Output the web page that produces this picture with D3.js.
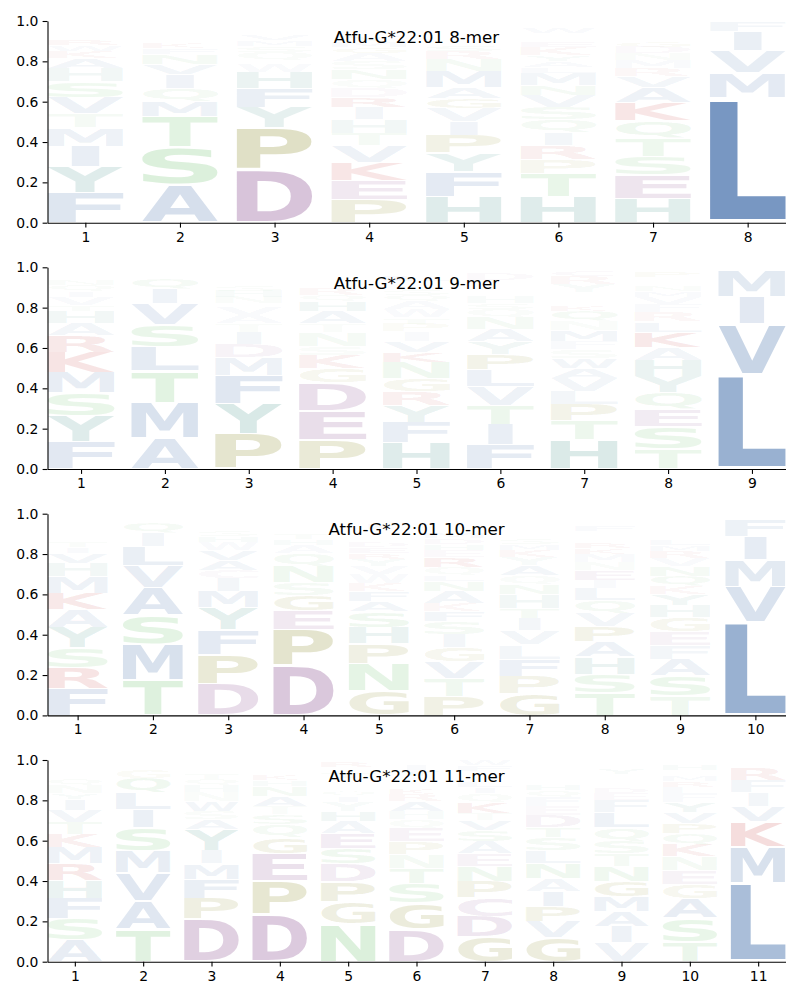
<!DOCTYPE html>
<html><head><meta charset="utf-8">
<script src="https://cdn.jsdelivr.net/npm/d3@7"></script>
<style>body{margin:0;background:#fff} svg{display:block}</style>
</head><body>
<svg id="chart" width="800" height="1000"></svg>
<script>
// ---------------- DATA ----------------
const titles = ["Atfu-G*22:01 8-mer", "Atfu-G*22:01 9-mer", "Atfu-G*22:01 10-mer", "Atfu-G*22:01 11-mer"];
const yTicks = [0, 0.2, 0.4, 0.6, 0.8, 1.0];
const yTickLabels = ["0.0", "0.2", "0.4", "0.6", "0.8", "1.0"];

// each column: [letter, probability] from bottom to top
const mer8 = [
  [["F",.15],["Y",.13],["I",.10],["M",.09],["T",.07],["V",.08],["S",.08],["H",.065],["A",.05],["K",.035],["W",.03],["R",.03],["Q",.02],["E",.015],["N",.015],["D",.01],["G",.015],["L",.015]],
  [["A",.19],["S",.185],["T",.15],["M",.075],["Q",.065],["I",.07],["V",.05],["N",.05],["F",.03],["K",.025],["R",.02],["E",.02],["Y",.015],["L",.015],["D",.01],["G",.01],["H",.01],["W",.005]],
  [["D",.26],["P",.21],["Y",.10],["F",.095],["H",.08],["W",.04],["I",.02],["Q",.04],["S",.03],["M",.03],["V",.025],["A",.02],["G",.015],["N",.015],["L",.01],["E",.01]],
  [["P",.115],["E",.095],["K",.09],["V",.085],["T",.06],["H",.065],["I",.06],["R",.05],["D",.045],["Q",.045],["N",.05],["S",.04],["A",.04],["G",.03],["M",.03],["Y",.025],["W",.02],["L",.02],["C",.015],["F",.01]],
  [["H",.13],["F",.125],["Y",.09],["P",.09],["I",.065],["V",.065],["G",.05],["A",.055],["M",.08],["N",.06],["R",.04],["S",.03],["E",.02],["Q",.02],["L",.015],["D",.01],["K",.01],["W",.02],["T",.015],["C",.01]],
  [["H",.13],["T",.115],["P",.07],["R",.07],["I",.06],["Q",.065],["S",.06],["V",.06],["N",.05],["M",.06],["L",.03],["A",.03],["Y",.03],["K",.04],["E",.03],["D",.015],["G",.015],["F",.01],["W",.025],["C",.02]],
  [["H",.12],["E",.115],["S",.095],["T",.09],["Q",.085],["K",.09],["A",.075],["V",.055],["R",.04],["M",.04],["N",.035],["D",.03],["G",.025],["Y",.02],["F",.015],["L",.01],["I",.01],["W",.01],["P",.02],["C",.01]],
  [["L",.62],["M",.125],["V",.11],["I",.095],["F",.05]]
];
const mer9 = [
  [["F",.135],["Y",.13],["S",.115],["M",.10],["K",.10],["R",.08],["A",.06],["H",.06],["T",.03],["V",.04],["I",.03],["Q",.03],["N",.025],["E",.02],["G",.02],["D",.015],["L",.01]],
  [["A",.155],["M",.175],["T",.155],["L",.12],["S",.11],["V",.105],["I",.075],["Q",.05],["F",.015],["W",.01],["Y",.01],["G",.01],["E",.005]],
  [["P",.175],["Y",.15],["F",.14],["M",.09],["D",.065],["I",.06],["T",.04],["A",.04],["V",.04],["W",.02],["N",.03],["H",.03],["S",.025],["Q",.02],["L",.015],["E",.01],["G",.01],["K",.02],["R",.015]],
  [["P",.145],["E",.145],["D",.14],["G",.07],["K",.065],["S",.045],["N",.07],["T",.04],["A",.06],["H",.05],["Q",.03],["R",.03],["M",.02],["Y",.02],["V",.015],["L",.01],["F",.01],["I",.01],["W",.015],["C",.01]],
  [["H",.13],["F",.10],["Y",.085],["R",.07],["G",.065],["N",.08],["K",.05],["V",.055],["I",.045],["P",.04],["T",.03],["W",.04],["A",.04],["Q",.03],["S",.025],["E",.02],["D",.015],["M",.01],["L",.03],["C",.02]],
  [["F",.12],["I",.10],["T",.095],["V",.095],["L",.085],["P",.075],["Y",.06],["A",.06],["N",.06],["Q",.04],["S",.03],["H",.03],["E",.02],["G",.02],["R",.02],["M",.015],["K",.01],["D",.03],["W",.02],["C",.01]],
  [["H",.145],["T",.095],["P",.08],["L",.065],["V",.065],["A",.05],["W",.05],["S",.045],["F",.04],["M",.055],["N",.045],["Q",.05],["K",.025],["E",.02],["G",.02],["D",.015],["I",.01],["Y",.04],["R",.04],["C",.03]],
  [["T",.10],["S",.11],["E",.085],["Q",.085],["Y",.08],["H",.08],["A",.065],["K",.075],["L",.05],["R",.045],["F",.04],["V",.035],["M",.03],["N",.025],["D",.02],["G",.015],["I",.01],["P",.03],["W",.015]],
  [["L",.47],["V",.25],["I",.135],["M",.13],["F",.015]]
];
const mer10 = [
  [["F",.135],["R",.10],["S",.10],["Y",.10],["A",.09],["K",.08],["M",.085],["H",.065],["V",.05],["I",.03],["T",.025],["Q",.02],["E",.02],["N",.015],["G",.01],["D",.01],["L",.01],["P",.02],["W",.015],["C",.01]],
  [["T",.175],["M",.18],["S",.14],["A",.14],["V",.11],["L",.095],["I",.065],["Q",.05],["F",.015],["Y",.01],["W",.01]],
  [["D",.155],["P",.145],["F",.125],["Y",.11],["M",.08],["I",.065],["C",.04],["A",.05],["V",.05],["W",.04],["H",.03],["S",.025],["N",.02],["E",.015],["L",.01],["Q",.02],["G",.015]],
  [["D",.245],["P",.18],["E",.095],["G",.075],["S",.065],["N",.08],["Q",.065],["A",.04],["H",.03],["T",.025],["K",.02],["R",.015],["Y",.01],["M",.01],["L",.01],["V",.01],["F",.01],["W",.01]],
  [["G",.12],["N",.135],["P",.10],["H",.08],["S",.08],["A",.05],["F",.05],["K",.04],["W",.045],["V",.04],["Y",.035],["R",.03],["E",.03],["D",.025],["Q",.02],["M",.02],["L",.015],["T",.01],["I",.03],["C",.02]],
  [["P",.095],["T",.09],["V",.08],["G",.07],["I",.065],["S",.065],["F",.05],["K",.04],["A",.06],["N",.05],["L",.03],["Q",.04],["R",.05],["E",.035],["H",.03],["D",.03],["M",.025],["Y",.02],["W",.015],["C",.015]],
  [["G",.105],["P",.09],["F",.085],["L",.07],["V",.07],["I",.06],["T",.05],["H",.07],["N",.05],["Q",.045],["A",.05],["Y",.04],["K",.035],["M",.03],["S",.025],["E",.02],["D",.02],["R",.015],["W",.01],["C",.02]],
  [["T",.11],["S",.095],["H",.085],["A",.075],["P",.075],["V",.065],["Q",.065],["L",.06],["I",.04],["E",.05],["N",.04],["M",.04],["K",.03],["R",.025],["G",.02],["Y",.015],["D",.015],["C",.01],["F",.03],["W",.02]],
  [["T",.095],["S",.10],["A",.085],["F",.065],["E",.07],["G",.07],["H",.06],["Y",.055],["K",.04],["Q",.05],["N",.05],["V",.04],["R",.035],["M",.03],["L",.025],["P",.02],["D",.015],["I",.01],["W",.02],["C",.02]],
  [["L",.465],["V",.175],["M",.13],["I",.115],["F",.08],["Y",.02],["W",.015]]
];
const mer11 = [
  [["A",.11],["S",.105],["F",.10],["H",.09],["R",.08],["M",.08],["K",.065],["T",.06],["V",.06],["I",.055],["Y",.03],["N",.04],["Q",.03],["E",.02],["G",.015],["D",.01],["L",.01],["P",.02],["W",.015]],
  [["T",.16],["A",.14],["V",.14],["M",.11],["S",.115],["I",.09],["L",.08],["Q",.075],["G",.04],["F",.02],["W",.015],["Y",.015]],
  [["D",.21],["P",.105],["F",.095],["M",.075],["I",.065],["Y",.105],["A",.05],["S",.04],["W",.05],["N",.045],["H",.035],["Q",.03],["T",.025],["L",.02],["E",.015],["V",.015],["G",.01]],
  [["D",.235],["P",.165],["E",.135],["G",.08],["Q",.065],["S",.05],["T",.04],["A",.05],["N",.05],["H",.03],["K",.025],["R",.02],["M",.015],["L",.01],["V",.01],["Y",.01],["I",.01]],
  [["N",.185],["G",.11],["P",.10],["D",.09],["S",.075],["E",.075],["A",.06],["H",.05],["Y",.045],["I",.03],["Q",.025],["K",.02],["M",.02],["V",.015],["L",.01],["T",.03],["F",.015],["W",.01],["R",.03]],
  [["D",.16],["G",.13],["S",.10],["T",.075],["N",.065],["P",.065],["E",.065],["Q",.045],["H",.04],["A",.05],["R",.035],["K",.025],["M",.02],["V",.02],["L",.015],["F",.01],["Y",.03],["I",.025],["W",.015]],
  [["G",.125],["D",.10],["C",.09],["P",.085],["N",.075],["E",.06],["A",.06],["S",.055],["V",.05],["T",.035],["K",.055],["Q",.045],["I",.03],["L",.025],["M",.02],["R",.02],["H",.015],["F",.03],["W",.025]],
  [["G",.12],["V",.08],["P",.075],["I",.075],["A",.065],["N",.075],["L",.06],["S",.065],["T",.05],["D",.06],["E",.045],["F",.045],["Q",.035],["H",.025],["K",.02],["R",.015],["Y",.015],["M",.01],["W",.02],["C",.02]],
  [["V",.095],["I",.08],["A",.075],["M",.075],["G",.075],["N",.075],["T",.06],["S",.06],["Q",.07],["L",.075],["F",.06],["E",.035],["D",.03],["K",.02],["R",.02],["P",.015],["H",.01],["Y",.03],["W",.02],["C",.02]],
  [["T",.10],["S",.115],["A",.10],["G",.07],["E",.07],["N",.065],["K",.06],["Q",.055],["P",.05],["V",.055],["Y",.05],["F",.04],["L",.035],["R",.03],["M",.025],["D",.02],["I",.01],["H",.03],["W",.02]],
  [["L",.39],["M",.18],["K",.125],["V",.075],["I",.07],["F",.06],["R",.06],["Y",.02],["W",.02]]
];
const panels = [mer8, mer9, mer10, mer11];

// colour groups
const groupColor = {
  blue: "rgb(76,118,174)", purple: "rgb(132,70,138)", olive: "rgb(134,134,30)",
  green: "rgb(100,190,100)", teal: "rgb(50,135,125)", red: "rgb(190,30,30)"
};
const letterGroup = {
  A:"blue", V:"blue", L:"blue", I:"blue", M:"blue", F:"blue", W:"blue",
  D:"purple", E:"purple", C:"purple",
  P:"olive", G:"olive",
  S:"green", T:"green", N:"green", Q:"green",
  H:"teal", Y:"teal",
  K:"red", R:"red"
};

// ---------------- LAYOUT ----------------
const svg = d3.select("#chart");
const LEFT = 47.5, RIGHT = 785.5, PH = 201.7;
const TOPS = [21, 267.3, 513.7, 760];
const FONT = "DejaVu Sans";
const FS = 100;
const VPAD = 0.03;

const ctx = document.createElement("canvas").getContext("2d");
ctx.font = `bold ${FS}px "${FONT}"`;
const inkCache = {};
function ink(c) {
  if (!inkCache[c]) {
    const m = ctx.measureText(c);
    inkCache[c] = {l: m.actualBoundingBoxLeft, r: m.actualBoundingBoxRight, a: m.actualBoundingBoxAscent, d: m.actualBoundingBoxDescent};
  }
  return inkCache[c];
}
const refE = ink("E");
const refW = refE.l + refE.r;

panels.forEach((cols, pi) => {
  const top = TOPS[pi];
  const n = cols.length;
  const x = d3.scaleLinear().domain([0.6, n + 0.4]).range([LEFT, RIGHT]);
  const y = d3.scaleLinear().domain([0, 1]).range([top + PH, top]);
  const g = svg.append("g");

  const glyphs = [];
  cols.forEach((col, ci) => {
    const pos = ci + 1;
    let floor = 0;
    col.forEach(([c, v]) => {
      glyphs.push({c, v, pos, y0: floor, y1: floor + v});
      floor += v;
    });
  });

  g.selectAll("text.glyph").data(glyphs).join("text")
    .attr("class", "glyph")
    .attr("font-family", FONT)
    .attr("font-weight", "bold")
    .attr("font-size", FS)
    .attr("fill", d => groupColor[letterGroup[d.c]])
    .attr("fill-opacity", d => Math.min(1, 1.22 * d.v))
    .attr("transform", d => {
      const m = ink(d.c);
      const bx = x(d.pos - 0.4), bw = x(d.pos + 0.4) - bx;
      const pad = VPAD * d.v;
      const ty = y(d.y1 - pad), by = y(d.y0 + pad);
      const iw = m.l + m.r, ih = m.a + m.d;
      let sx, shift = 0;
      if (iw < 0.6 * refW) { sx = bw / refW; shift = (bw - iw * sx) / 2; }
      else { sx = bw / iw; }
      const sy = (by - ty) / ih;
      return `translate(${bx + shift},${ty}) scale(${sx},${sy}) translate(${m.l},${m.a})`;
    })
    .text(d => d.c);

  // axes
  const ax = g.append("g").attr("transform", `translate(0,${top + PH})`)
    .call(d3.axisBottom(x).tickValues(d3.range(1, n + 1)).tickFormat(d3.format("d")).tickSize(4.9).tickPadding(4.2).tickSizeOuter(0));
  const ay = g.append("g").attr("transform", `translate(${LEFT},0)`)
    .call(d3.axisLeft(y).tickValues(yTicks).tickFormat((d, i) => yTickLabels[i]).tickSize(4.9).tickPadding(4.2).tickSizeOuter(0));
  [ax, ay].forEach(a => {
    a.attr("font-family", FONT).attr("font-size", 13.9);
    a.selectAll("path, line").attr("stroke", "#000").attr("stroke-width", 1.1);
    a.selectAll("text").attr("fill", "#000");
  });

  g.append("text")
    .attr("x", (LEFT + RIGHT) / 2)
    .attr("y", top + 21.5)
    .attr("text-anchor", "middle")
    .attr("font-family", FONT)
    .attr("font-size", 16.7)
    .attr("fill", "#000")
    .text(titles[pi]);
});
</script>
</body></html>
